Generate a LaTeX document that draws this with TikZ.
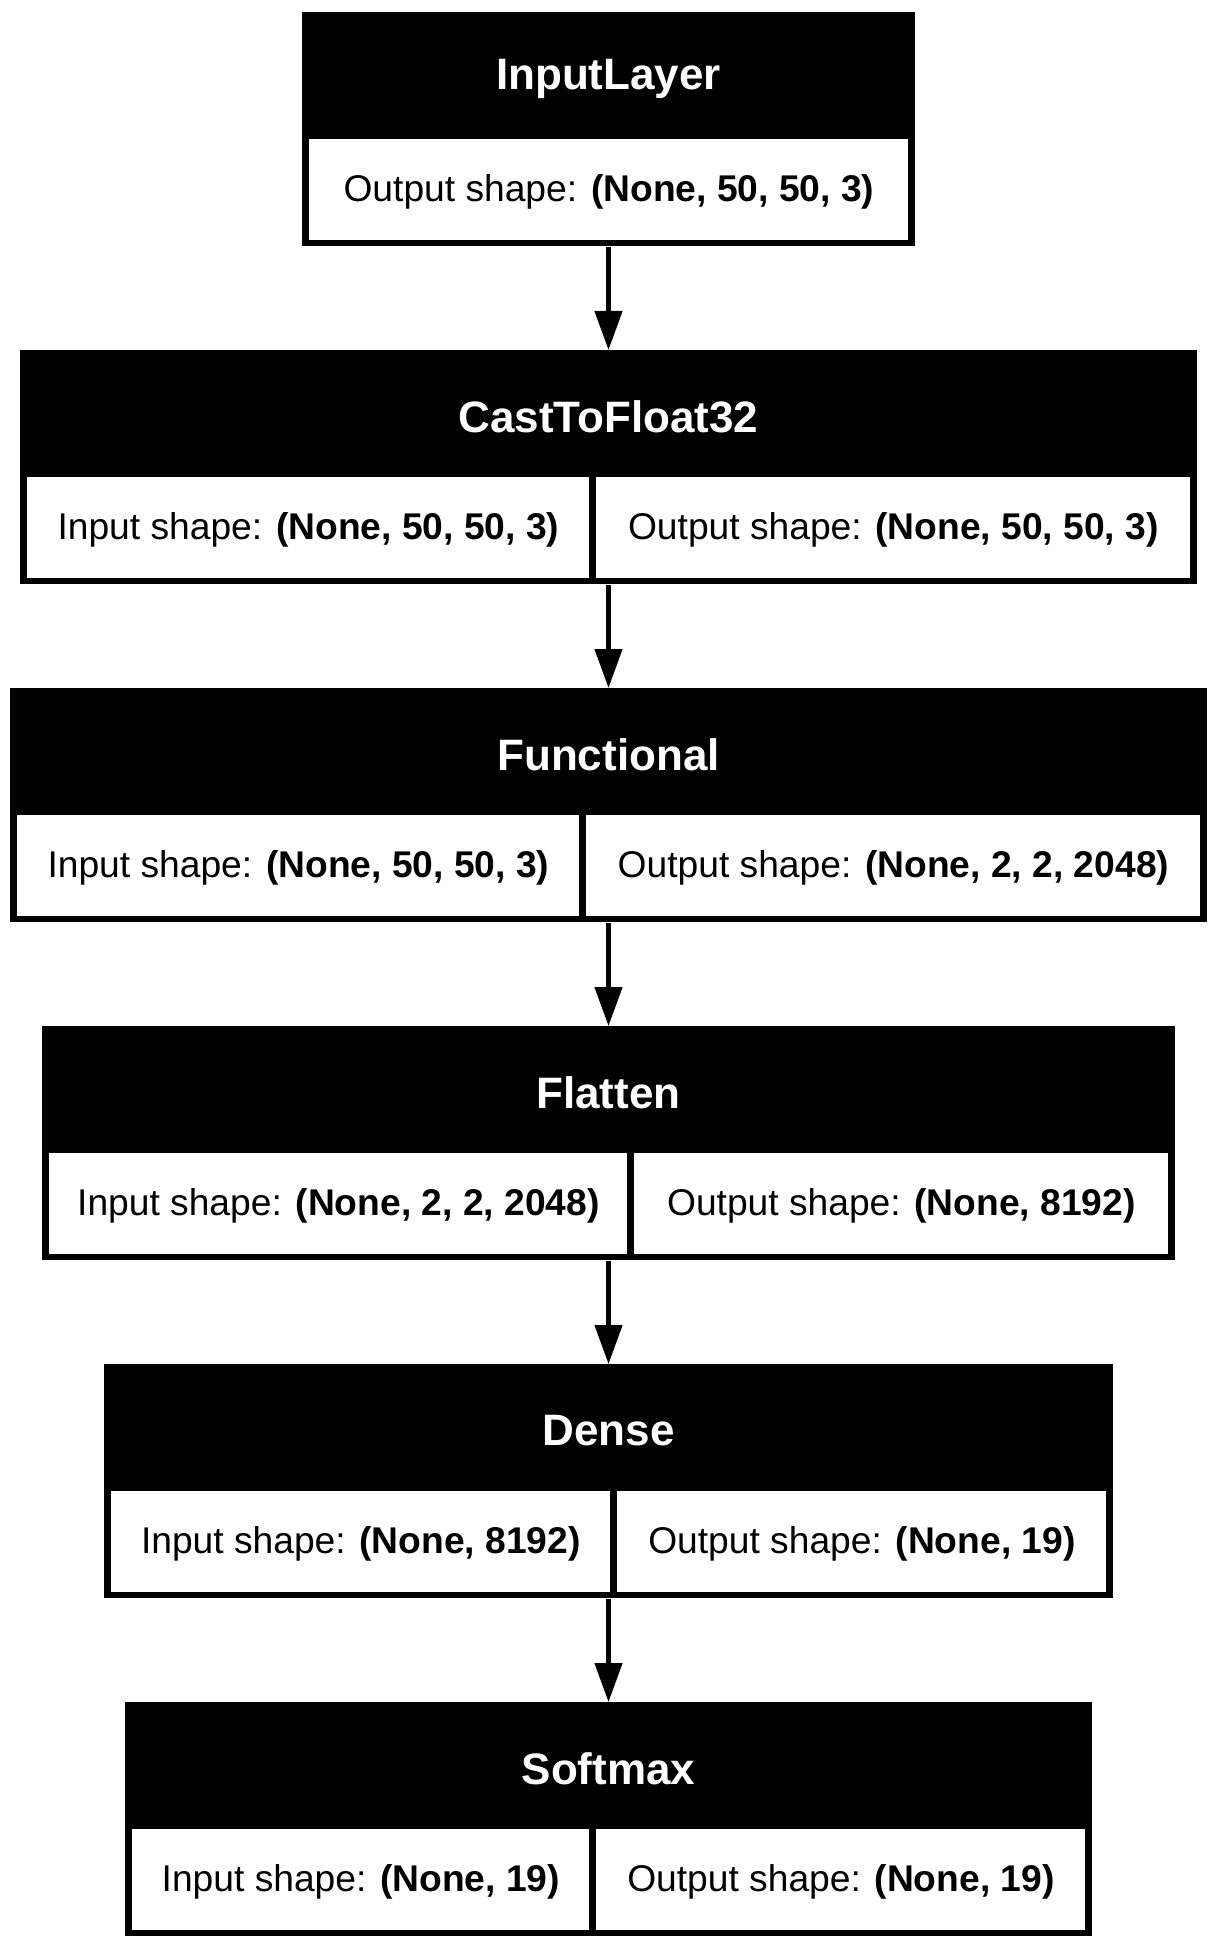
\documentclass[tikz,border=0pt]{standalone}
\usepackage{fontspec}
\setmainfont{Liberation Sans}
\usetikzlibrary{arrows.meta,positioning}

\begin{document}
\begin{tikzpicture}[x=0.5pt,y=-0.5pt,
  >={Triangle[length=19.5pt,width=13.5pt]},
  layerbox/.style={fill=black,inner sep=0pt,minimum height=117pt,anchor=north},
  headtext/.style={text=white,inner sep=0pt,
   font=\fontsize{22}{26}\selectfont\bfseries},
  shapecell/.style={fill=white,inner sep=0pt,anchor=north west,
   minimum height=50.5pt,text depth=1.5pt,font=\fontsize{18.6}{22}\selectfont},
  flow/.style={->,line width=2.3pt}]
 \useasboundingbox (0,0) rectangle (1217,1947);
 % input layer
 \node[layerbox,minimum width=306.5pt] (input) at (608.5,12) {};
 \node[headtext] (inputhead) at (608.5,79) {InputLayer};
 \node[shapecell,minimum width=299.5pt] (inputout) at (309,139)
  {Output shape: \textbf{(None, 50, 50, 3)}};
 % cast
 \node[layerbox,minimum width=588.5pt] (cast) at (608.5,350) {};
 \node[headtext] (casthead) at (608.5,417) {CastToFloat32};
 \node[shapecell,minimum width=281pt] (castin) at (27,477)
  {Input shape: \textbf{(None, 50, 50, 3)}};
 \node[shapecell,minimum width=297pt] (castout) at (596,477)
  {Output shape: \textbf{(None, 50, 50, 3)}};
 % functional
 \node[layerbox,minimum width=598.5pt] (func) at (608.5,688) {};
 \node[headtext] (funchead) at (608.5,755) {Functional};
 \node[shapecell,minimum width=281pt] (funcin) at (17,815)
  {Input shape: \textbf{(None, 50, 50, 3)}};
 \node[shapecell,minimum width=307pt] (funcout) at (586,815)
  {Output shape: \textbf{(None, 2, 2, 2048)}};
 % flatten
 \node[layerbox,minimum width=566.5pt] (flat) at (608.5,1026) {};
 \node[headtext] (flathead) at (608.5,1093) {Flatten};
 \node[shapecell,minimum width=289pt] (flatin) at (49,1153)
  {Input shape: \textbf{(None, 2, 2, 2048)}};
 \node[shapecell,minimum width=267pt] (flatout) at (634,1153)
  {Output shape: \textbf{(None, 8192)}};
 % dense
 \node[layerbox,minimum width=504.5pt] (dense) at (608.5,1364) {};
 \node[headtext] (densehead) at (608.5,1431) {Dense};
 \node[shapecell,minimum width=249.5pt] (densein) at (111,1491)
  {Input shape: \textbf{(None, 8192)}};
 \node[shapecell,minimum width=244.5pt] (denseout) at (617,1491)
  {Output shape: \textbf{(None, 19)}};
 % softmax
 \node[layerbox,minimum width=483.5pt] (soft) at (608.5,1702) {};
 \node[headtext] (softhead) at (608.5,1769) {Softmax};
 \node[shapecell,minimum width=228.5pt] (softin) at (132,1829)
  {Input shape: \textbf{(None, 19)}};
 \node[shapecell,minimum width=244.5pt] (softout) at (596,1829)
  {Output shape: \textbf{(None, 19)}};
 % connectors
 \draw[flow] (input.south) -- (cast.north);
 \draw[flow] (cast.south) -- (func.north);
 \draw[flow] (func.south) -- (flat.north);
 \draw[flow] (flat.south) -- (dense.north);
 \draw[flow] (dense.south) -- (soft.north);
\end{tikzpicture}
\end{document}
